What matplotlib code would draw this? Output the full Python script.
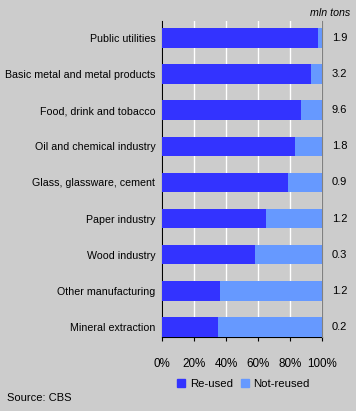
import matplotlib.pyplot as plt
from matplotlib.patches import Patch

# data
sectors = ["Public utilities", "Basic metal and metal products", "Food, drink and tobacco",
           "Oil and chemical industry", "Glass, glassware, cement", "Paper industry",
           "Wood industry", "Other manufacturing", "Mineral extraction"]
reused = [97.5, 93.0, 87.0, 83.0, 78.7, 65.0, 58.0, 36.0, 35.0]
not_reused = [100 - v for v in reused]
totals = ["1.9", "3.2", "9.6", "1.8", "0.9", "1.2", "0.3", "1.2", "0.2"]
xticks = [0, 20, 40, 60, 80, 100]

bg = "#CCCCCC"
dark = "#3333FF"
light = "#6699FF"
fs = 7.7

plt.rcParams["font.family"] = ["Liberation Sans", "DejaVu Sans"]
fig = plt.figure(figsize=(3.56, 4.11), dpi=100, facecolor=bg)
ax = fig.add_axes([0.456, 0.180, 0.4487, 0.769], facecolor=bg)

pos = list(range(len(sectors)))
ax.barh(pos, reused, height=0.54, color=dark, zorder=3)
ax.barh(pos, not_reused, left=reused, height=0.54, color=light, zorder=3)

ax.set_xlim(0, 100)
ax.set_ylim(8.28, -0.47)
ax.set_xticks(xticks)
ax.set_xticklabels([f"{t}%" for t in xticks], fontsize=8.4)
ax.set_yticks(pos)
ax.set_yticklabels(sectors, fontsize=fs)
ax.tick_params(axis="y", length=0, pad=5)
ax.tick_params(axis="x", length=3, pad=12, color="black")
ax.grid(axis="x", color="white", linewidth=1, zorder=1)

ax.spines["top"].set_visible(False)
ax.spines["right"].set_color("#808080")
ax.spines["left"].set_color("black")
ax.spines["bottom"].set_color("black")
ax.spines["right"].set_zorder(4)

for i, t in enumerate(totals):
    ax.annotate(t, xy=(1.157, i), xycoords=("axes fraction", "data"),
                ha="right", va="center", fontsize=8)

fig.text(350 / 356, 1 - 12.5 / 411, "mln tons", ha="right", va="center",
         fontsize=fs, style="italic")

handles = [Patch(color=dark, label="Re-used"), Patch(color=light, label="Not-reused")]
fig.legend(handles=handles, loc="center", bbox_to_anchor=(0.684, 0.065), ncol=2,
           frameon=False, fontsize=8.2, handlelength=0.7, handleheight=0.7,
           handletextpad=0.4, columnspacing=0.7, borderpad=0)

fig.text(7 / 356, 1 - 398 / 411, "Source: CBS", ha="left", va="center", fontsize=8)

fig.savefig("out.png", dpi=100, facecolor=bg)
